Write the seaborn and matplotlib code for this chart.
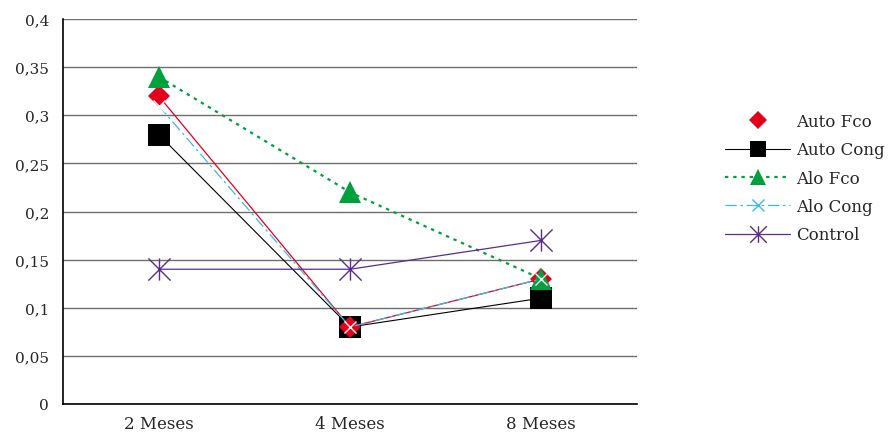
import numpy as np
import seaborn as sns
import matplotlib.pyplot as plt
from matplotlib.lines import Line2D
from matplotlib.path import Path

categories = ['2 Meses', '4 Meses', '8 Meses']
auto_fco = [0.32, 0.08, 0.13]
auto_cong = [0.28, 0.08, 0.11]
alo_fco = [0.34, 0.22, 0.13]
alo_cong = [0.31, 0.08, 0.13]
control = [0.14, 0.14, 0.17]
y_ticks = [0, 0.05, 0.1, 0.15, 0.2, 0.25, 0.3, 0.35, 0.4]
y_labels = ['0', '0,05', '0,1', '0,15', '0,2', '0,25', '0,3', '0,35', '0,4']

sns.set_style('white')
plt.rcParams['font.family'] = ['DejaVu Serif']

# asterisk marker like Excel's star (x plus vertical bar)
star = Path([(0, -1), (0, 1), (-1, -1), (1, 1), (-1, 1), (1, -1)],
            [Path.MOVETO, Path.LINETO, Path.MOVETO, Path.LINETO, Path.MOVETO, Path.LINETO])

red = '#e2001a'
green = '#00a03c'
blue = '#3cb9ee'
purple = '#5a2d8f'

fig = plt.figure(figsize=(8.88, 4.39), dpi=100)
ax = fig.add_axes([63 / 888, 34 / 439, 574 / 888, 385 / 439])

sns.lineplot(x=categories, y=auto_cong, ax=ax, color='black', lw=0.8,
             marker='s', markersize=16, markeredgewidth=0, zorder=2)
sns.lineplot(x=categories, y=auto_fco, ax=ax, color=red, lw=0.9,
             marker='D', markersize=11.5, markeredgewidth=0, zorder=3)
sns.lineplot(x=categories, y=alo_fco, ax=ax, color=green, lw=1.6,
             linestyle=(0, (1.5, 2.2)), marker='^', markersize=16,
             markeredgewidth=0, zorder=4)
sns.lineplot(x=categories, y=alo_cong, ax=ax, color=blue, lw=0.9,
             linestyle=(0, (9, 3, 2, 3)), marker='x', markersize=8,
             markeredgewidth=1.0, zorder=5)
sns.lineplot(x=categories, y=control, ax=ax, color=purple, lw=0.9,
             marker=star, markersize=16, markeredgewidth=1.0,
             markerfacecolor='none', markeredgecolor=purple, zorder=6)

ax.set_ylim(0, 0.4)
ax.set_xlim(-0.5, 2.5)
ax.set_yticks(y_ticks)
ax.set_yticklabels(y_labels, fontsize=11)
ax.yaxis.grid(True, color='#6e6e6e', lw=1.0)
ax.set_axisbelow(True)
ax.set_xticks([-0.5, 0.5, 1.5, 2.5])
ax.set_xticklabels([])
ax.set_xticks([0, 1, 2], minor=True)
ax.set_xticklabels(categories, minor=True, fontsize=12)
ax.tick_params(axis='x', which='major', direction='out', length=5, width=0.8, color='black')
ax.tick_params(axis='x', which='minor', length=0, pad=8)
ax.tick_params(axis='y', direction='inout', length=8, width=0.8, color='black', pad=6)
ax.set_xlabel('')
ax.set_ylabel('')
for side in ['top', 'right']:
    ax.spines[side].set_visible(False)
for side in ['left', 'bottom']:
    ax.spines[side].set_color('black')
    ax.spines[side].set_linewidth(1.2)
if ax.get_legend() is not None:
    ax.get_legend().remove()

handles = [
    Line2D([], [], color=red, lw=0, marker='D', markersize=9, markeredgewidth=0),
    Line2D([], [], color='black', lw=0.8, marker='s', markersize=11, markeredgewidth=0),
    Line2D([], [], color=green, lw=1.6, linestyle=(0, (1.5, 2.2)), marker='^', markersize=11, markeredgewidth=0),
    Line2D([], [], color=blue, lw=0.9, linestyle=(0, (9, 3, 2, 3)), marker='x', markersize=8, markeredgewidth=1.0),
    Line2D([], [], color=purple, lw=0.9, marker=star, markersize=12, markeredgewidth=1.0,
           markerfacecolor='none', markeredgecolor=purple),
]
labels = ['Auto Fco', 'Auto Cong', 'Alo Fco', 'Alo Cong', 'Control']
fig.legend(handles, labels, loc='upper left', bbox_to_anchor=(725 / 888, 1 - 114 / 439),
           frameon=False, fontsize=12, handlelength=3.9, handletextpad=0.35,
           labelspacing=0.68, borderpad=0, borderaxespad=0)

fig.savefig('out.png', dpi=100)
